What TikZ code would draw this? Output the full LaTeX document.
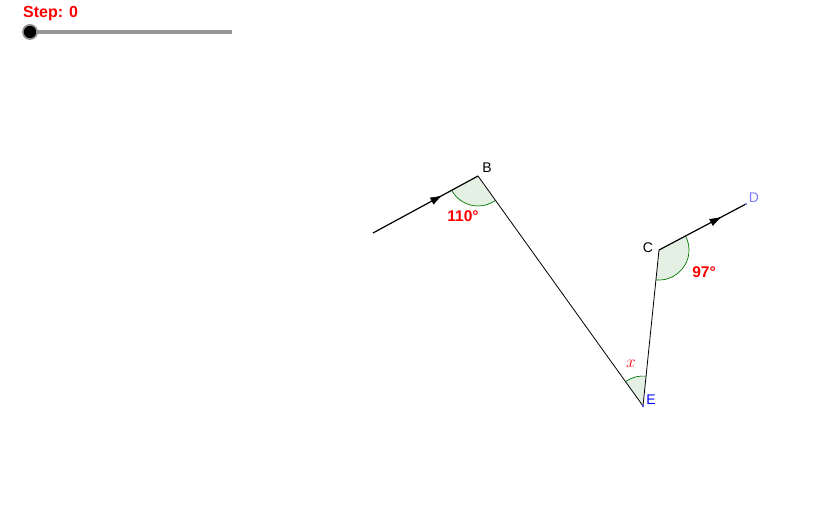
\documentclass[tikz,border=0pt]{standalone}
\usepackage{fontspec}
\setmainfont{Liberation Sans}
\usetikzlibrary{angles,decorations.markings,arrows.meta}
\definecolor{ggred}{RGB}{255,0,0}
\definecolor{ggreen}{RGB}{0,120,0}
\definecolor{ggfill}{RGB}{229,240,229}
\definecolor{ggD}{RGB}{125,125,255}
\definecolor{ggE}{RGB}{0,0,255}
\definecolor{gggray}{RGB}{150,150,150}
\tikzset{
  seg/.style={black,line width=0.8pt},
  vec/.style={black,line width=1.2pt,postaction={decorate},
    decoration={markings,mark=at position #1 with {\arrow[line width=0.6pt]{Latex[length=12pt,width=8pt]}}}},
  angsec/.style={draw=ggreen,fill=ggfill,line width=0.7pt,angle radius=30pt},
  ptlabel/.style={font=\fontsize{14}{16}\selectfont,inner sep=0pt},
  anglabel/.style={text=ggred,font=\bfseries\fontsize{15.5}{18}\selectfont,inner sep=0pt},
}
\begin{document}
\begin{tikzpicture}[x=1pt,y=1pt]
\useasboundingbox (0,0) rectangle (821,516);
\coordinate (A) at (373,283);
\coordinate (B) at (478,340);
\coordinate (E) at (643,110);
\coordinate (C) at (659,266);
\coordinate (D) at (746,312);
% angle sectors
\pic[angsec] {angle=A--B--E};
\pic[angsec] {angle=E--C--D};
\pic[angsec] {angle=C--E--B};
% segments
\draw[vec=0.66] (A) -- (B);
\draw[seg] (B) -- (E);
\draw[seg] (E) -- (C);
\draw[vec=0.72] (C) -- (D);
\fill[ggE!70] (E) circle (1.3pt);
\fill[ggD] (D) circle (1.2pt);
% labels
\node[ptlabel] (lB) at (487,348) {B};
\node[ptlabel] (lC) at (648,268) {C};
\node[ptlabel,text=ggD] (lD) at (754,318) {D};
\node[ptlabel,text=ggE] (lE) at (651,116) {E};
\node[anglabel] (a110) at (463,300) {110°};
\node[anglabel] (a97) at (704,244) {97°};
\node[text=ggred,inner sep=0pt,font=\fontsize{19}{21}\selectfont] (ax) at (631,152) {$x$};
% slider
\node[anglabel,anchor=west,font=\bfseries\fontsize{16}{18}\selectfont] (step) at (23,502) {Step: 0};
\coordinate (s0) at (30,484);
\coordinate (s1) at (232,484);
\draw[gggray,line width=3.5pt] (s0) -- (s1);
\fill[gggray] (s0) circle (8pt);
\fill[black] (s0) circle (6.2pt);
\end{tikzpicture}
\end{document}
